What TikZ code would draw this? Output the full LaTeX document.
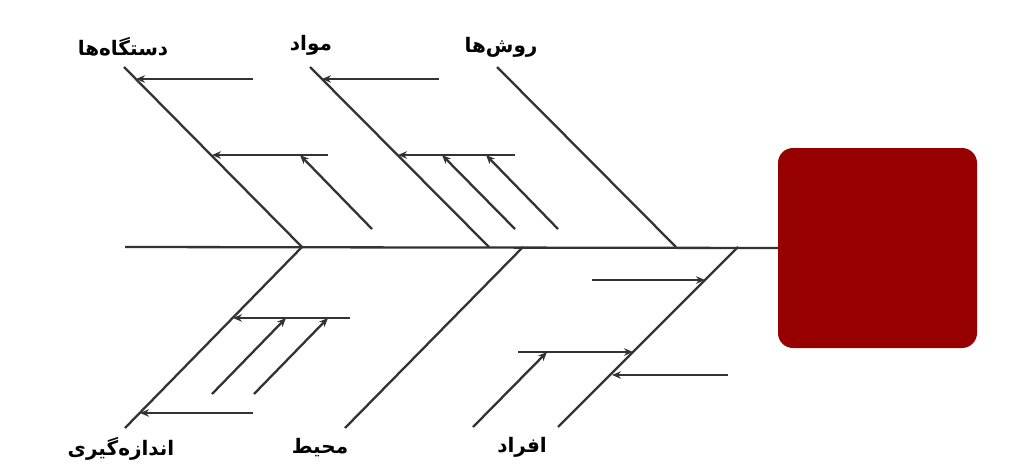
\documentclass[tikz,border=0pt]{standalone}
\usepackage{fontspec}
\usetikzlibrary{arrows.meta}
\TeXXeTstate=1
\newfontfamily\fa[Script=Arabic]{DejaVu Sans}
\definecolor{boxred}{HTML}{960000}
\definecolor{linegray}{HTML}{333333}
\begin{document}
\begin{tikzpicture}[x=1pt,y=-1pt,
  bone/.style={draw=linegray,line width=2.3pt},
  twig/.style={draw=linegray,line width=2.3pt,-{Stealth[length=9pt,width=7.5pt]}},
  lbl/.style={font=\fa\bfseries\fontsize{20}{24}\selectfont,text=black,inner sep=0pt}]
\useasboundingbox (0,0) rectangle (1024,471);
% head box
\node[fill=boxred,rounded corners=15pt,minimum width=199pt,minimum height=200pt,inner sep=0pt] (head) at (877.5,248) {};
% spine
\coordinate (tail) at (125,247);
\draw[bone] (tail) -- (head.west);
% top bones
\coordinate (t1a) at (124,67);  \coordinate (t1b) at (302,247);
\coordinate (t2a) at (310,67);  \coordinate (t2b) at (489,247);
\coordinate (t3a) at (497,67);  \coordinate (t3b) at (676,247);
\draw[bone] (t1a) -- (t1b);
\draw[bone] (t2a) -- (t2b);
\draw[bone] (t3a) -- (t3b);
% bottom bones
\coordinate (b1a) at (125,428);  \coordinate (b1b) at (302,247);
\coordinate (b2a) at (345,428);  \coordinate (b2b) at (523,247);
\coordinate (b3a) at (558,427);  \coordinate (b3b) at (738,247);
\draw[bone] (b1a) -- (b1b);
\draw[bone] (b2a) -- (b2b);
\draw[bone] (b3a) -- (b3b);
% branches of bone 1 (top)
\coordinate (p11) at (253,79);  \coordinate (q11) at (136,79);
\coordinate (p12) at (328,155); \coordinate (q12) at (212,155);
\coordinate (p13) at (372,229); \coordinate (q13) at (300,155);
\draw[twig] (p11) -- (q11);
\draw[twig] (p12) -- (q12);
\draw[twig] (p13) -- (q13);
% branches of bone 2 (top)
\coordinate (p21) at (439,79);  \coordinate (q21) at (322,79);
\coordinate (p22) at (515,155); \coordinate (q22) at (398,155);
\coordinate (p23) at (515,229); \coordinate (q23) at (442,155);
\coordinate (p24) at (558,229); \coordinate (q24) at (486,155);
\draw[twig] (p21) -- (q21);
\draw[twig] (p22) -- (q22);
\draw[twig] (p23) -- (q23);
\draw[twig] (p24) -- (q24);
% branches of bottom bone 1
\coordinate (r11) at (350,318); \coordinate (s11) at (233,318);
\coordinate (r12) at (253,413); \coordinate (s12) at (140,413);
\coordinate (r13) at (212,394); \coordinate (s13) at (286,318);
\coordinate (r14) at (254,394); \coordinate (s14) at (328,318);
\draw[twig] (r11) -- (s11);
\draw[twig] (r12) -- (s12);
\draw[twig] (r13) -- (s13);
\draw[twig] (r14) -- (s14);
% branches of bottom bone 3
\coordinate (r31) at (592,280); \coordinate (s31) at (705,280);
\coordinate (r32) at (518,352); \coordinate (s32) at (633,352);
\coordinate (r33) at (728,375); \coordinate (s33) at (612,375);
\coordinate (r34) at (473,427); \coordinate (s34) at (547,352);
\draw[twig] (r31) -- (s31);
\draw[twig] (r32) -- (s32);
\draw[twig] (r33) -- (s33);
\draw[twig] (r34) -- (s34);
% labels
\node[lbl] (l1) at (123,47) {\beginR دستگاه‌ها\endR};
\node[lbl] (l2) at (311,45) {\beginR مواد\endR};
\node[lbl] (l3) at (501,47) {\beginR روش‌ها\endR};
\node[lbl] (l4) at (121,449) {\beginR اندازه‌گیری\endR};
\node[lbl] (l5) at (320,448) {\beginR محیط\endR};
\node[lbl] (l6) at (522,447) {\beginR افراد\endR};
\end{tikzpicture}
\end{document}
